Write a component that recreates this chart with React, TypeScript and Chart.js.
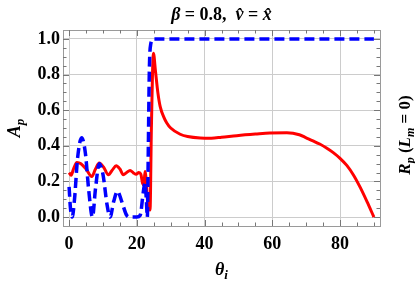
import React, { useEffect, useRef } from "react";
import { Chart, registerables } from "chart.js";

Chart.register(...registerables);

// Red solid curve (A_p)
const apTheta = [0, 0.6, 1.3, 2.3, 3.5, 5, 6.7, 7.8, 8.9, 10.2, 11.6, 12.8, 13.9, 15, 16, 17, 18, 19, 19.8, 20.6, 21.2, 21.7, 22.1, 22.4, 22.8, 23.3, 23.9, 24.3, 24.9, 25.5, 26.2, 26.9, 28, 28.8, 30, 32.8, 35, 38.7, 42, 45, 49.5, 55, 59.3, 64.3, 68, 70, 72, 74, 76, 78, 80, 82, 84, 86, 88, 90];
const apValues = [0.25, 0.235, 0.27, 0.307, 0.3, 0.27, 0.228, 0.27, 0.303, 0.28, 0.238, 0.265, 0.288, 0.27, 0.238, 0.25, 0.262, 0.248, 0.24, 0.25, 0.24, 0.19, 0.18, 0.256, 0.2, 0.06, 0.04, 0.5, 0.92, 0.82, 0.7, 0.62, 0.56, 0.53, 0.5, 0.465, 0.452, 0.444, 0.443, 0.448, 0.457, 0.466, 0.472, 0.473, 0.462, 0.445, 0.428, 0.41, 0.388, 0.362, 0.33, 0.29, 0.235, 0.165, 0.085, 0.0];

// Blue dashed curve (R_p, L_m = 0)
const rpTheta = [0, 0.4, 0.9, 1.6, 2.5, 3.7, 4.8, 5.8, 6.9, 7.8, 8.9, 10, 11.2, 12.1, 13.2, 14.3, 15.5, 17, 18, 20, 21, 21.9, 22.4, 22.8, 23.1, 23.4, 23.7, 24.1, 24.9, 40, 60, 80, 90];
const rpValues = [0.17, 0.05, 0.0, 0.1, 0.33, 0.445, 0.36, 0.15, 0.0, 0.16, 0.3, 0.24, 0.07, 0.0, 0.09, 0.145, 0.09, 0.01, 0.0, 0.0, 0.01, 0.14, 0.19, 0.1, 0.0, 0.4, 0.83, 0.97, 1.0, 1.0, 1.0, 1.0, 1.0];

const xTicks = [0, 20, 40, 60, 80];
const yTicks = [0, 0.2, 0.4, 0.6, 0.8, 1.0];
const xMinorTicks = [5, 10, 15, 25, 30, 35, 45, 50, 55, 65, 70, 75, 85, 90];
const yMinorTicks = [0.05, 0.1, 0.15, 0.25, 0.3, 0.35, 0.45, 0.5, 0.55, 0.65, 0.7, 0.75, 0.85, 0.9, 0.95];

const titleText = [
  { t: "β", italic: true },
  { t: " = 0.8,  " },
  { t: "v\u0302", italic: true },
  { t: " = " },
  { t: "x\u0302", italic: true },
];
const leftLabel = [{ t: "A", italic: true }, { t: "p", italic: true, sub: true }];
const rightLabel = [
  { t: "R", italic: true },
  { t: "p", italic: true, sub: true },
  { t: " (" },
  { t: "L", italic: true },
  { t: "m", italic: true, sub: true },
  { t: " = 0)" },
];
const bottomLabel = [{ t: "θ", italic: true }, { t: "i", italic: true, sub: true }];

type Seg = { t: string; italic?: boolean; sub?: boolean };
const FAMILY = "'Liberation Serif', 'Times New Roman', serif";

function drawRich(ctx: CanvasRenderingContext2D, segs: Seg[], cx: number, cy: number, rot: number, size: number) {
  ctx.save();
  ctx.translate(cx, cy);
  ctx.rotate(rot);
  ctx.textBaseline = "alphabetic";
  ctx.textAlign = "left";
  ctx.fillStyle = "#000";
  const fontOf = (s: Seg) => `${s.italic ? "italic " : ""}bold ${s.sub ? Math.round(size * 0.72) : size}px ${FAMILY}`;
  let total = 0;
  const widths = segs.map((s) => {
    ctx.font = fontOf(s);
    const w = ctx.measureText(s.t).width;
    total += w;
    return w;
  });
  let x = -total / 2;
  segs.forEach((s, i) => {
    ctx.font = fontOf(s);
    ctx.fillText(s.t, x, s.sub ? size * 0.22 : 0);
    x += widths[i];
  });
  ctx.restore();
}

const framePlugin = {
  id: "frameAndLabels",
  beforeDatasetsDraw(chart: any) {
    const { ctx, chartArea } = chart;
    const xs = chart.scales.x;
    const ys = chart.scales.y;
    ctx.save();
    ctx.strokeStyle = "#9a9a9a";
    ctx.lineWidth = 1;
    ctx.strokeRect(Math.round(chartArea.left) + 0.5, Math.round(chartArea.top) + 0.5, Math.round(chartArea.right - chartArea.left), Math.round(chartArea.bottom - chartArea.top));
    ctx.strokeStyle = "#777";
    const tick = (vals: number[], len: number) => {
      vals.forEach((v) => {
        const px = Math.round(xs.getPixelForValue(v)) + 0.5;
        ctx.beginPath();
        ctx.moveTo(px, chartArea.bottom);
        ctx.lineTo(px, chartArea.bottom - len);
        ctx.moveTo(px, chartArea.top);
        ctx.lineTo(px, chartArea.top + len);
        ctx.stroke();
      });
    };
    const ytick = (vals: number[], len: number) => {
      vals.forEach((v) => {
        const py = Math.round(ys.getPixelForValue(v)) + 0.5;
        ctx.beginPath();
        ctx.moveTo(chartArea.left, py);
        ctx.lineTo(chartArea.left + len, py);
        ctx.moveTo(chartArea.right, py);
        ctx.lineTo(chartArea.right - len, py);
        ctx.stroke();
      });
    };
    tick(xTicks, 6);
    tick(xMinorTicks, 3.5);
    ytick(yTicks, 6);
    ytick(yMinorTicks, 3.5);
    ctx.restore();
  },
  afterDraw(chart: any) {
    const { ctx, chartArea } = chart;
    const cx = (chartArea.left + chartArea.right) / 2;
    const cy = (chartArea.top + chartArea.bottom) / 2;
    drawRich(ctx, titleText as Seg[], cx, 20, 0, 18);
    drawRich(ctx, leftLabel as Seg[], 20, cy, -Math.PI / 2, 18);
    drawRich(ctx, rightLabel as Seg[], 410, cy + 7, -Math.PI / 2, 17);
    drawRich(ctx, bottomLabel as Seg[], cx, 275, 0, 18);
  },
};

export default function App() {
  const ref = useRef<HTMLCanvasElement>(null);
  useEffect(() => {
    if (!ref.current) return;
    const tickFont = { family: FAMILY, size: 18, weight: "bold" as const };
    const chart = new Chart(ref.current, {
      type: "line",
      data: {
        datasets: [
          {
            label: "Rp",
            data: rpTheta.map((x, i) => ({ x, y: rpValues[i] })),
            borderColor: "#0000ff",
            borderWidth: 3.5,
            borderDash: [10, 5],
            pointRadius: 0,
            cubicInterpolationMode: "monotone",
            fill: false,
          },
          {
            label: "Ap",
            data: apTheta.map((x, i) => ({ x, y: apValues[i] })),
            borderColor: "#ff0000",
            borderWidth: 3,
            pointRadius: 0,
            cubicInterpolationMode: "monotone",
            fill: false,
          },
        ],
      },
      options: {
        animation: false,
        responsive: false,
        layout: { padding: { top: 30, right: 35, left: 0, bottom: 0 } },
        plugins: { legend: { display: false }, tooltip: { enabled: false }, title: { display: false } },
        scales: {
          x: {
            type: "linear",
            min: -1.8,
            max: 91.8,
            afterBuildTicks: (s: any) => {
              s.ticks = xTicks.map((v) => ({ value: v }));
            },
            afterFit: (s: any) => {
              s.height = 59;
            },
            grid: { color: "#cccccc", drawTicks: false, lineWidth: 1 },
            border: { display: false },
            ticks: { font: tickFont, color: "#000", padding: 8, maxRotation: 0, callback: (v: any) => String(v) },
          },
          y: {
            type: "linear",
            min: -0.05,
            max: 1.05,
            afterBuildTicks: (s: any) => {
              s.ticks = yTicks.map((v) => ({ value: v }));
            },
            afterFit: (s: any) => {
              s.width = 63;
            },
            grid: { color: "#cccccc", drawTicks: false, lineWidth: 1 },
            border: { display: false },
            ticks: { font: tickFont, color: "#000", padding: 3, callback: (v: any) => Number(v).toFixed(1) },
          },
        },
      },
      plugins: [framePlugin],
    });
    return () => chart.destroy();
  }, []);
  return (
    <div style={{ position: "fixed", left: 0, top: 0, width: 415, height: 285, background: "#fff" }}>
      <canvas ref={ref} width={415} height={285} style={{ width: 415, height: 285 }} />
    </div>
  );
}
